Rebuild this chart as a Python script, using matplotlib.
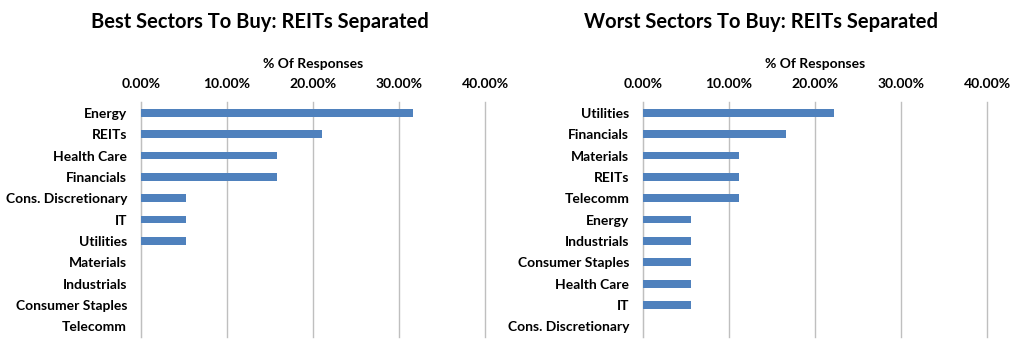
import matplotlib.pyplot as plt

# Best sectors (top to bottom)
best_sectors = ['Energy', 'REITs', 'Health Care', 'Financials', 'Cons. Discretionary',
                'IT', 'Utilities', 'Materials', 'Industrials', 'Consumer Staples', 'Telecomm']
best_pct = [31.58, 21.05, 15.79, 15.79, 5.26, 5.26, 5.26, 0, 0, 0, 0]

# Worst sectors (top to bottom)
worst_sectors = ['Utilities', 'Financials', 'Materials', 'REITs', 'Telecomm', 'Energy',
                 'Industrials', 'Consumer Staples', 'Health Care', 'IT', 'Cons. Discretionary']
worst_pct = [22.22, 16.67, 11.11, 11.11, 11.11, 5.56, 5.56, 5.56, 5.56, 5.56, 0]

xticks = [0, 10, 20, 30, 40]
bar_color = '#4F81BD'

plt.rcParams['font.family'] = ['Lato', 'DejaVu Sans']
plt.rcParams['font.weight'] = 'bold'

fig = plt.figure(figsize=(10.24, 3.5), dpi=100)

panels = [
    (0.1377, best_sectors, best_pct, 'Best Sectors To Buy: REITs Separated', 260),
    (0.628, worst_sectors, worst_pct, 'Worst Sectors To Buy: REITs Separated', 761),
]

for left, cats, vals, title, tx in panels:
    ax = fig.add_axes([left, 0.037, 0.336, 0.671])
    y = list(range(len(cats)))
    ax.barh(y, vals, height=0.36, color=bar_color, zorder=3)
    ax.set_ylim(len(cats) - 0.5, -0.5)
    ax.set_xlim(0, 40)
    ax.set_xticks(xticks)
    ax.set_xticklabels([f'{t:.2f}%' for t in xticks], fontsize=10, fontweight='bold')
    ax.xaxis.tick_top()
    ax.xaxis.set_label_position('top')
    ax.set_xlabel('% Of Responses', fontsize=10, fontweight='bold', labelpad=7)
    ax.set_yticks(y)
    ax.set_yticklabels(cats, fontsize=10, fontweight='bold')
    ax.tick_params(axis='both', length=0, pad=9)
    ax.tick_params(axis='y', pad=10)
    ax.grid(axis='x', color='#BFBFBF', linewidth=1, zorder=0)
    for gl in ax.get_xgridlines():
        gl.set_clip_on(False)
    for s in ['top', 'right', 'bottom']:
        ax.spines[s].set_visible(False)
    ax.spines['left'].set_color('#BFBFBF')
    fig.text(tx / 1024, 1 - 22 / 350, title, fontsize=14.5, fontweight='bold',
             ha='center', va='center')

fig.savefig('out.png', dpi=100)
